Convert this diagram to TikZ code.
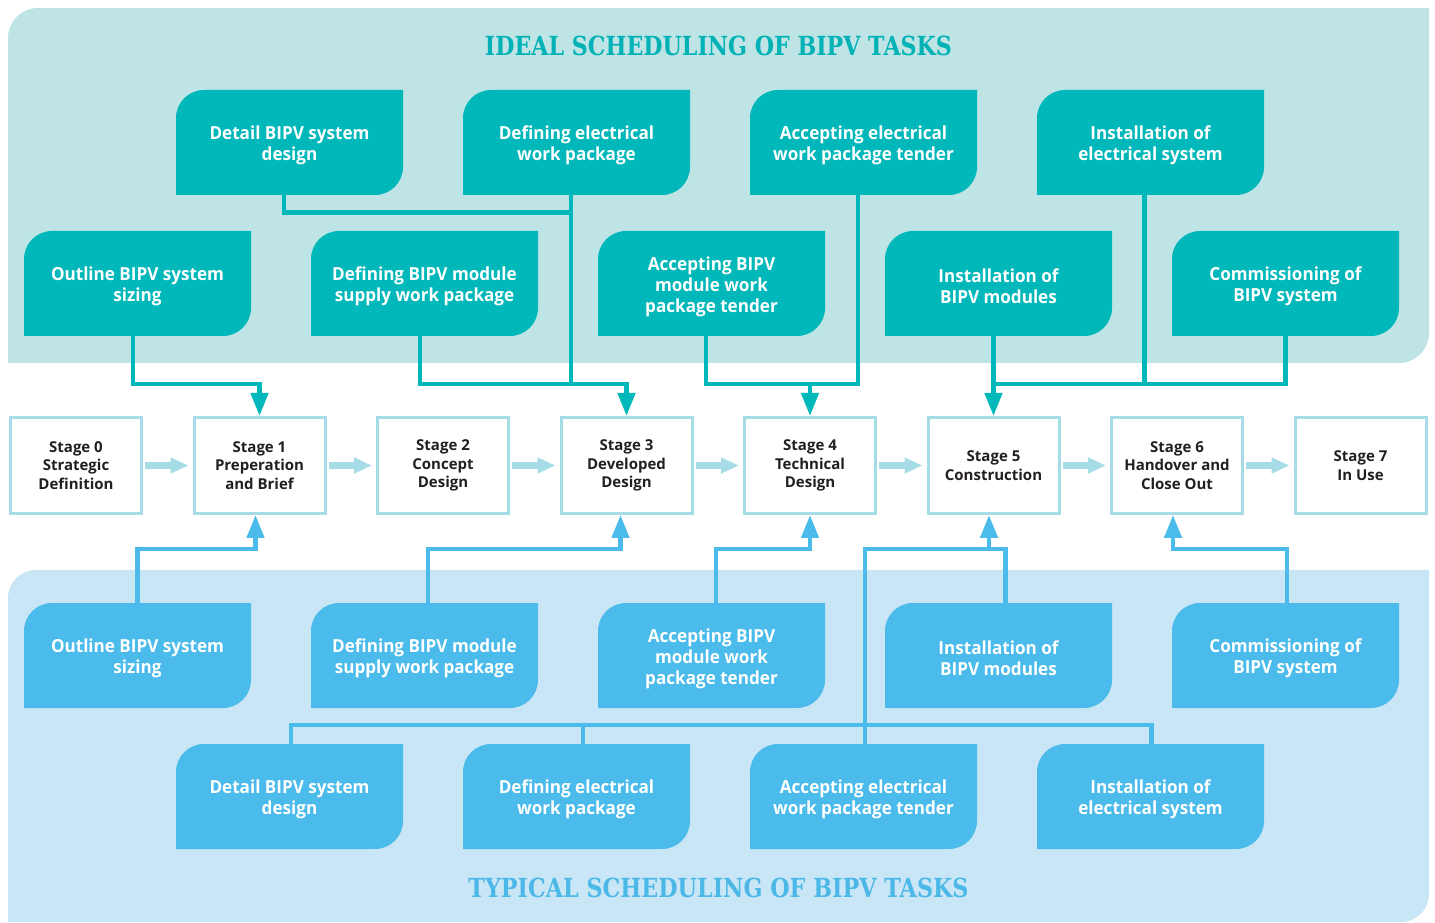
\documentclass[tikz,border=0pt]{standalone}
\usepackage{fontspec}
\setmainfont{Open Sans}
\newfontfamily\taskfont[FakeStretch=0.95]{Open Sans}
\newfontfamily\slabfont{DejaVu Serif}
\usetikzlibrary{arrows.meta}
\definecolor{tpanel}{HTML}{BFE4E5}
\definecolor{tbox}{HTML}{00B7BA}
\definecolor{ttitle}{HTML}{00B2B6}
\definecolor{bpanel}{HTML}{C9E6F6}
\definecolor{bbox}{HTML}{4ABBEB}
\definecolor{btitle}{HTML}{4BB8E8}
\definecolor{sborder}{HTML}{A6DCE6}
\definecolor{stext}{HTML}{231F20}
\newcommand\taskbox[5]{%
  \fill[#4] ({#2-113.5},{#3-52.5}) -- ({#2-113.5},{#3+52.5-28}) arc[start angle=180,end angle=90,radius=28pt]
    -- ({#2+113.5},{#3+52.5}) -- ({#2+113.5},{#3-52.5+28}) arc[start angle=0,end angle=-90,radius=28pt] -- cycle;
  \node[taskshape] (#1) at (#2,#3) {};
  \node[tasktext] (#1t) at (#2,{#3-3}) {#5};
}
\begin{document}
\begin{tikzpicture}[x=1pt,y=1pt,
  taskshape/.style={minimum width=227pt,minimum height=105pt,inner sep=0pt},
  tasktext/.style={inner sep=0pt,align=center,text=white,
    font=\taskfont\fontsize{18}{21}\selectfont\bfseries},
  stage/.style={draw=sborder,line width=3pt,minimum width=131pt,minimum height=96pt,inner sep=0pt,
    align=center,text=stext,font=\fontsize{15}{18.5}\selectfont\bfseries},
  tline/.style={draw=tbox,line width=4.5pt},
  bline/.style={draw=bbox,line width=4.5pt},
  tip/.style={-{Triangle[width=17pt,length=23pt]}},
  sarrow/.style={draw=sborder,line width=6.5pt,-{Triangle[width=15pt,length=18pt]},shorten <=2pt,shorten >=4pt}]
\useasboundingbox (0,0) rectangle (1435,922);
% panels
\fill[tpanel] (8,559) -- (8,884) arc[start angle=180,end angle=90,radius=30pt] -- (1429,914) -- (1429,589) arc[start angle=0,end angle=-90,radius=30pt] -- cycle;
\fill[bpanel] (8,0) -- (8,324) arc[start angle=180,end angle=90,radius=28pt] -- (1429,352) -- (1429,28) arc[start angle=0,end angle=-90,radius=28pt] -- cycle;
% titles
\node[text=ttitle,inner sep=0pt] (ttl) at (718.5,876.5) {\resizebox{467pt}{19.5pt}{\slabfont\bfseries IDEAL SCHEDULING OF BIPV TASKS}};
\node[text=btitle,inner sep=0pt] (btl) at (718.5,34.5) {\resizebox{500pt}{19.5pt}{\slabfont\bfseries TYPICAL SCHEDULING OF BIPV TASKS}};
% top tasks
\taskbox{tDetail}{289.5}{779.5}{tbox}{Detail BIPV system\\design}
\taskbox{tDefElec}{576.5}{779.5}{tbox}{Defining electrical\\work package}
\taskbox{tAccElec}{863.5}{779.5}{tbox}{Accepting electrical\\work package tender}
\taskbox{tInsElec}{1150.5}{779.5}{tbox}{Installation of\\electrical system}
\taskbox{tOutline}{137.5}{638.5}{tbox}{Outline BIPV system\\sizing}
\taskbox{tDefMod}{424.5}{638.5}{tbox}{Defining BIPV module\\supply work package}
\taskbox{tAccMod}{711.5}{638.5}{tbox}{Accepting BIPV\\module work\\package tender}
\taskbox{tInsMod}{998.5}{638.5}{tbox}{Installation of\\BIPV modules}
\taskbox{tComm}{1285.5}{638.5}{tbox}{Commissioning of\\BIPV system}
% bottom tasks
\taskbox{bOutline}{137.5}{266.5}{bbox}{Outline BIPV system\\sizing}
\taskbox{bDefMod}{424.5}{266.5}{bbox}{Defining BIPV module\\supply work package}
\taskbox{bAccMod}{711.5}{266.5}{bbox}{Accepting BIPV\\module work\\package tender}
\taskbox{bInsMod}{998.5}{266.5}{bbox}{Installation of\\BIPV modules}
\taskbox{bComm}{1285.5}{266.5}{bbox}{Commissioning of\\BIPV system}
\taskbox{bDetail}{289.5}{125.5}{bbox}{Detail BIPV system\\design}
\taskbox{bDefElec}{576.5}{125.5}{bbox}{Defining electrical\\work package}
\taskbox{bAccElec}{863.5}{125.5}{bbox}{Accepting electrical\\work package tender}
\taskbox{bInsElec}{1150.5}{125.5}{bbox}{Installation of\\electrical system}
% stages
\node[stage] (s0) at (76,456.5) {Stage 0\\Strategic\\Definition};
\node[stage] (s1) at (259.5,456.5) {Stage 1\\Preperation\\and Brief};
\node[stage] (s2) at (443,456.5) {Stage 2\\Concept\\Design};
\node[stage] (s3) at (626.5,456.5) {Stage 3\\Developed\\Design};
\node[stage] (s4) at (810,456.5) {Stage 4\\Technical\\Design};
\node[stage] (s5) at (993.5,456.5) {Stage 5\\Construction};
\node[stage] (s6) at (1177,456.5) {Stage 6\\Handover and\\Close Out};
\node[stage] (s7) at (1360.5,456.5) {Stage 7\\In Use};
\draw[sarrow] (s0) -- (s1);
\draw[sarrow] (s1) -- (s2);
\draw[sarrow] (s2) -- (s3);
\draw[sarrow] (s3) -- (s4);
\draw[sarrow] (s4) -- (s5);
\draw[sarrow] (s5) -- (s6);
\draw[sarrow] (s6) -- (s7);
% top connectors
\coordinate (jA) at (571,709.5);
\coordinate (jB) at (571,538);
\coordinate (jC) at (810,538);
\coordinate (jD) at (993.5,538);
\coordinate (jE) at (259.5,538);
\draw[tline] ([xshift=-5.5pt]tDetail.south) |- (jA);
\draw[tline] ([xshift=-5.5pt]tDefElec.south) -- (jB);
\draw[tline,tip] ([xshift=-4.5pt]tDefMod.south) |- (jB) -| (s3.north);
\draw[tline] ([xshift=-5.5pt]tAccMod.south) |- (jC) -| ([xshift=-5.5pt]tAccElec.south);
\draw[tline,tip] (jC) -- (s4.north);
\draw[tline] ([xshift=-5pt]tInsMod.south) -- (jD) -| (tComm.south);
\draw[tline] ([xshift=-6pt]tInsElec.south) |- (jD);
\draw[tline,tip] (jD) -- (jD |- s5.north);
\draw[tline,tip] ([xshift=-4.5pt]tOutline.south) |- (jE) -- (s1.north);
% bottom connectors
\coordinate (kA) at (255.5,373);
\coordinate (kB) at (620.5,373);
\coordinate (kC) at (810,373);
\coordinate (kD) at (989,373);
\coordinate (kE) at (865,373);
\coordinate (kF) at (865,197);
\coordinate (kG) at (583,197);
\coordinate (kH) at (1173,373);
\draw[bline,tip] (bOutline.north) |- (kA) -- (kA |- s1.south);
\draw[bline,tip] ([xshift=3.5pt]bDefMod.north) |- (kB) -- (kB |- s3.south);
\draw[bline,tip] ([xshift=4.5pt]bAccMod.north) |- (kC) -- (s4.south);
\draw[bline] ([xshift=7pt]bInsMod.north) |- (kE) -- ([xshift=1.5pt]bAccElec.north);
\draw[bline,tip] (kD) -- (kD |- s5.south);
\draw[bline] ([xshift=1.5pt]bDetail.north) |- (kF) -| ([xshift=1pt]bInsElec.north);
\draw[bline] (kG) -- (kG |- bDefElec.north);
\draw[bline,tip] ([xshift=1.5pt]bComm.north) |- (kH) -- (kH |- s6.south);
\end{tikzpicture}
\end{document}
